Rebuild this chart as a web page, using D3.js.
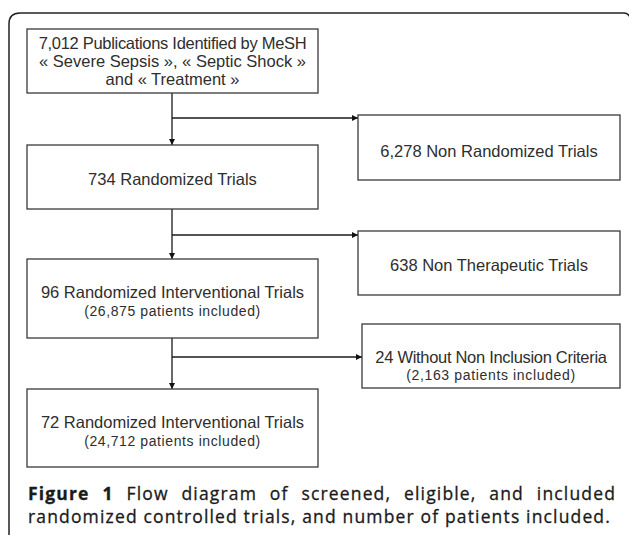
<!DOCTYPE html>
<html lang="en">
<meta charset="utf-8">
<head>
  <style>
    body { margin: 0; background: #fff; }
    .box rect { fill: #fff; stroke: #3a3a3a; stroke-width: 1.3px; }
    .box text { font-family: "Liberation Sans", Arial, sans-serif; fill: #2e2e2e; text-anchor: middle; }
    .link { fill: none; stroke: #1a1a1a; stroke-width: 1.3px; }
    .caption { font-family: "Open Sans", "Noto Sans", sans-serif; font-size: 17.5px; fill: #1a1a1a; stroke: #1a1a1a; stroke-width: 0.3px; }
  </style>
  <title></title>
</head>
<body>
<script src="https://d3js.org/d3.v7.min.js"></script>
<script>

  // box texts (main flow, then exclusions)
  const mainLabels = [
    ["7,012 Publications Identified by MeSH", "\u00ab Severe Sepsis \u00bb, \u00ab Septic Shock \u00bb", "and \u00ab Treatment \u00bb"],
    ["734 Randomized Trials"],
    ["96 Randomized Interventional Trials", "(26,875 patients included)"],
    ["72 Randomized Interventional Trials", "(24,712 patients included)"]
  ];
  const sideLabels = [
    ["6,278 Non Randomized Trials"],
    ["638 Non Therapeutic Trials"],
    ["24 Without Non Inclusion Criteria", "(2,163 patients included)"]
  ];
  const captionBold = "Figure 1";
  const captionLines = [
    " Flow diagram of screened, eligible, and included",
    "randomized controlled trials, and number of patients included."
  ];

  // layout (pixels): box, text baselines, font sizes, letter spacing
  const mainBoxes = [
    {x: 27, y: 29, w: 291, h: 64, ty: [49, 67, 85], fs: [16.5, 16.5, 16.5], ls: [-0.3, 0, 0]},
    {x: 27, y: 145, w: 291, h: 64, ty: [185], fs: [16.5], ls: [0]},
    {x: 27, y: 259, w: 291, h: 79, ty: [298, 316], fs: [16.5, 14], ls: [0, 0.6]},
    {x: 27, y: 389, w: 291, h: 78, ty: [428, 446], fs: [16.5, 14], ls: [0, 0.6]}
  ];
  const sideBoxes = [
    {x: 358, y: 115, w: 262, h: 65, ty: [157], fs: [16.5], ls: [0]},
    {x: 358, y: 231, w: 262, h: 64, ty: [271], fs: [16.5], ls: [0]},
    {x: 362, y: 324, w: 258, h: 64, ty: [363, 380], fs: [16.5, 14], ls: [-0.3, 0.65]}
  ];
  const branchY = [118, 235, 357];
  const spineX = 172;

  const W = 629, H = 538;
  const svg = d3.select("body").append("svg")
      .attr("width", W)
      .attr("height", H);

  svg.append("defs").append("marker")
      .attr("id", "head")
      .attr("viewBox", "0 0 10 10")
      .attr("refX", 10).attr("refY", 5)
      .attr("markerWidth", 6).attr("markerHeight", 6)
      .attr("markerUnits", "userSpaceOnUse")
      .attr("orient", "auto")
      .append("path")
      .attr("d", "M0,0L10,5L0,10Z")
      .attr("fill", "#111");

  // outer rounded frame (right side runs off the page)
  svg.append("path")
      .attr("d", "M9,535 L9,24 Q9,13 20,13 L624,13 Q628,13 630,17")
      .attr("fill", "none")
      .attr("stroke", "#222")
      .attr("stroke-width", 1.5);

  // spine arrows between main boxes
  for (let i = 0; i < mainBoxes.length - 1; i++) {
    const a = mainBoxes[i], b = mainBoxes[i + 1];
    svg.append("line").attr("class", "link")
        .attr("x1", spineX).attr("y1", a.y + a.h)
        .attr("x2", spineX).attr("y2", b.y)
        .attr("marker-end", "url(#head)");
  }

  // branch arrows to exclusion boxes
  branchY.forEach(function (y, i) {
    svg.append("line").attr("class", "link")
        .attr("x1", spineX).attr("y1", y)
        .attr("x2", sideBoxes[i].x).attr("y2", y)
        .attr("marker-end", "url(#head)");
  });

  function drawBoxes(layout, labels) {
    const g = svg.selectAll(null)
        .data(layout.map(function (d, i) { return Object.assign({lines: labels[i]}, d); }))
        .enter().append("g")
        .attr("class", "box");

    g.append("rect")
        .attr("x", function (d) { return d.x; })
        .attr("y", function (d) { return d.y; })
        .attr("width", function (d) { return d.w; })
        .attr("height", function (d) { return d.h; });

    g.each(function (d) {
      d3.select(this).selectAll("text")
          .data(d.lines)
          .enter().append("text")
          .attr("x", d.x + d.w / 2)
          .attr("y", function (t, j) { return d.ty[j]; })
          .style("font-size", function (t, j) { return d.fs[j] + "px"; })
          .style("letter-spacing", function (t, j) { return d.ls[j] + "px"; })
          .text(function (t) { return t; });
    });
  }

  drawBoxes(mainBoxes, mainLabels);
  drawBoxes(sideBoxes, sideLabels);

  // caption: second line sets the tracking, first line is justified
  const cap2 = svg.append("text").attr("class", "caption")
      .attr("x", 28).attr("y", 523)
      .text(captionLines[1]);
  const w2 = cap2.node().getComputedTextLength();
  const track = Math.max(0, (611 - 28 - w2) / captionLines[1].length);
  cap2.style("letter-spacing", track + "px");

  const cap1 = svg.append("text").attr("class", "caption")
      .attr("x", 28).attr("y", 500)
      .style("letter-spacing", track + "px");
  cap1.append("tspan").style("font-weight", "bold").text(captionBold);
  cap1.append("tspan").text(captionLines[0]);
  const natural = cap1.node().getComputedTextLength();
  const gaps = (captionBold + captionLines[0]).split(" ").length - 1;
  cap1.attr("word-spacing", Math.max(0, (616 - 28 - natural) / gaps));

</script>
</body>
</html>
